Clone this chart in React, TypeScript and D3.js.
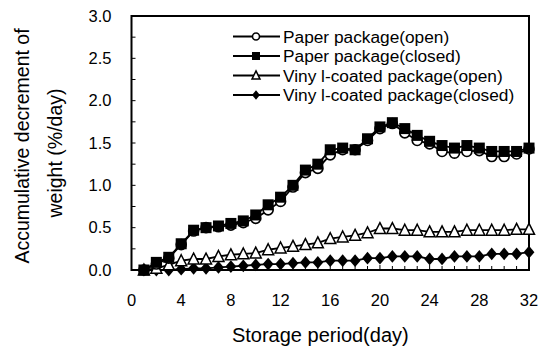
import React from "react";
import * as d3 from "d3";

const days = d3.range(1, 33);
const paperOpen = [0, 0.07, 0.14, 0.3, 0.46, 0.5, 0.51, 0.53, 0.56, 0.61, 0.71, 0.81, 0.98, 1.15, 1.2, 1.36, 1.42, 1.42, 1.53, 1.67, 1.73, 1.62, 1.53, 1.49, 1.4, 1.38, 1.4, 1.41, 1.34, 1.34, 1.37, 1.43];
const paperClosed = [0, 0.09, 0.15, 0.31, 0.47, 0.5, 0.52, 0.55, 0.58, 0.65, 0.77, 0.86, 1.0, 1.18, 1.25, 1.42, 1.44, 1.42, 1.55, 1.69, 1.74, 1.67, 1.59, 1.52, 1.47, 1.44, 1.47, 1.44, 1.4, 1.4, 1.4, 1.44];
const vinylOpen = [0, 0.02, 0.06, 0.11, 0.13, 0.13, 0.16, 0.18, 0.19, 0.2, 0.24, 0.26, 0.28, 0.3, 0.32, 0.37, 0.39, 0.41, 0.44, 0.49, 0.49, 0.47, 0.47, 0.45, 0.45, 0.45, 0.47, 0.47, 0.47, 0.47, 0.48, 0.48];
const vinylClosed = [0, 0, 0, 0.01, 0.02, 0.02, 0.03, 0.04, 0.05, 0.06, 0.07, 0.07, 0.08, 0.09, 0.09, 0.11, 0.11, 0.11, 0.14, 0.14, 0.16, 0.16, 0.16, 0.13, 0.13, 0.16, 0.16, 0.16, 0.19, 0.19, 0.19, 0.21];
const xTicks = [0, 4, 8, 12, 16, 20, 24, 28, 32];
const yTicks = [0, 0.5, 1.0, 1.5, 2.0, 2.5, 3.0];
const seriesNames = [
  "Paper package(open)",
  "Paper package(closed)",
  "Viny l-coated package(open)",
  "Viny l-coated package(closed)",
];

type Kind = "circle" | "square" | "triangle" | "diamond";

const FONT = "Liberation Sans, Arial, sans-serif";

function Marker({ kind, x, y, s }: { kind: Kind; x: number; y: number; s: number }) {
  if (kind === "circle")
    return <circle cx={x} cy={y} r={s * 0.5 - 0.5} fill="#fff" stroke="#000" strokeWidth={1.6} />;
  if (kind === "square")
    return <rect x={x - s / 2} y={y - s / 2} width={s} height={s} fill="#000" />;
  if (kind === "triangle") {
    const h = s * 0.9;
    return (
      <path
        d={`M${x},${y - h / 2 - 1}L${x + s / 2},${y + h / 2}L${x - s / 2},${y + h / 2}Z`}
        fill="#fff"
        stroke="#000"
        strokeWidth={1.5}
      />
    );
  }
  const r = s * 0.58;
  return <path d={`M${x},${y - r}L${x + r * 0.85},${y}L${x},${y + r}L${x - r * 0.85},${y}Z`} fill="#000" />;
}

export default function App() {
  const W = 542, H = 346;
  const L = 131.5, R = 529, T = 16, B = 270;
  const x = d3.scaleLinear().domain([0, 32]).range([L, R]);
  const y = d3.scaleLinear().domain([0, 3]).range([B, T]);
  const line = d3.line<number>().x((_, i) => x(days[i])).y((v) => y(v));

  const series: { data: number[]; kind: Kind; size: number }[] = [
    { data: paperOpen, kind: "circle", size: 11 },
    { data: paperClosed, kind: "square", size: 11 },
    { data: vinylOpen, kind: "triangle", size: 11 },
    { data: vinylClosed, kind: "diamond", size: 11 },
  ];
  const drawOrder = [3, 2, 0, 1];
  const legendMarker = [8, 8, 8, 8];
  const legendY = [36.5, 56, 75.5, 95];

  return (
    <svg width={W} height={H} style={{ position: "absolute", left: 0, top: 0, background: "#fff" }}>
      <rect width={W} height={H} fill="#fff" />
      {d3.range(0, 3.01, 0.25).map((v) => (
        <line key={"yt" + v} x1={L} x2={L + 4} y1={y(v)} y2={y(v)} stroke="#000" strokeWidth={1} />
      ))}
      {d3.range(0, 33).map((v) => (
        <line key={"xt" + v} x1={x(v)} x2={x(v)} y1={B} y2={B - (v % 4 === 0 ? 5 : 4)} stroke="#000" strokeWidth={1} />
      ))}
      <rect x={L} y={T} width={R - L} height={B - T} fill="none" stroke="#000" strokeWidth={2} />
      {yTicks.map((v) => (
        <text key={"yl" + v} x={L - 20} y={y(v)} dy="0.35em" textAnchor="end" fontFamily={FONT} fontSize={16.5} fill="#000">
          {v.toFixed(1)}
        </text>
      ))}
      {xTicks.map((v) => (
        <text key={"xl" + v} x={x(v)} y={300} dy="0.35em" textAnchor="middle" fontFamily={FONT} fontSize={16.5} fill="#000">
          {v}
        </text>
      ))}
      <text x={x(15.2)} y={335} dy="0.35em" textAnchor="middle" fontFamily={FONT} fontSize={20} fill="#000">
        Storage period(day)
      </text>
      <g transform="translate(22,146) rotate(-90)">
        <text x={0} y={0} dy="0.35em" textAnchor="middle" fontFamily={FONT} fontSize={19.5} fill="#000">
          Accumulative decrement of
        </text>
      </g>
      <g transform="translate(55,153) rotate(-90)">
        <text x={0} y={0} dy="0.35em" textAnchor="middle" fontFamily={FONT} fontSize={19.5} fill="#000">
          weight (%/day)
        </text>
      </g>
      {drawOrder.map((si) => {
        const s = series[si];
        return (
          <g key={"s" + si}>
            <path d={line(s.data) || ""} fill="none" stroke="#000" strokeWidth={1.8} />
            {s.data.map((v, i) => (
              <Marker key={i} kind={s.kind} x={x(days[i])} y={y(v)} s={s.size} />
            ))}
          </g>
        );
      })}
      {seriesNames.map((name, i) => (
        <g key={"lg" + i}>
          <line x1={233} x2={280} y1={legendY[i]} y2={legendY[i]} stroke="#000" strokeWidth={1.8} />
          <Marker kind={series[i].kind} x={256} y={legendY[i]} s={legendMarker[i]} />
          <text x={283} y={legendY[i]} dy="0.35em" fontFamily={FONT} fontSize={17.3} fill="#000">
            {name}
          </text>
        </g>
      ))}
    </svg>
  );
}
